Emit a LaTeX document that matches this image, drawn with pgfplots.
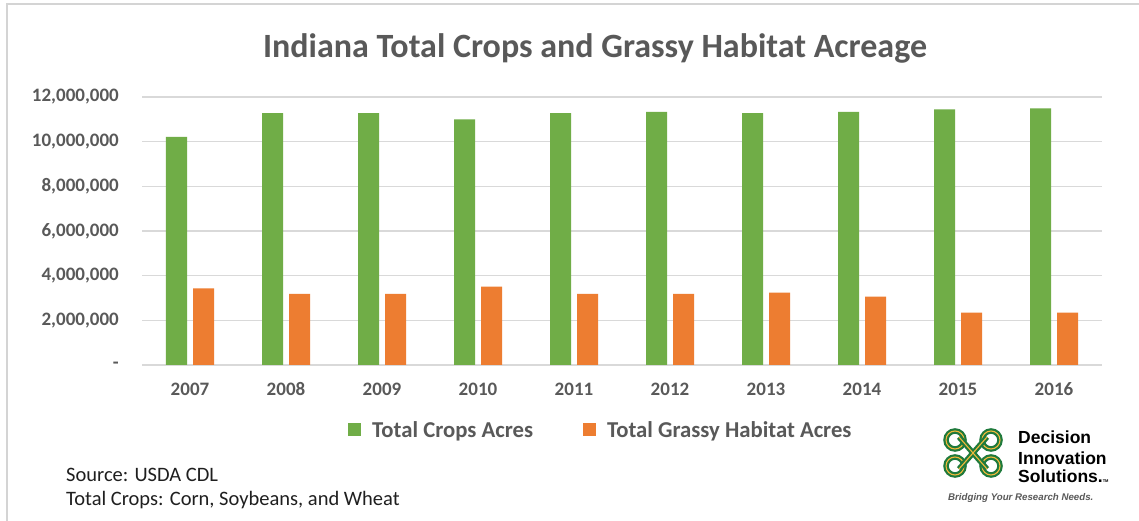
\documentclass[border=0pt]{standalone}
\usepackage{fontspec}
\setmainfont{Carlito}
\newfontfamily\arialfont{Liberation Sans}
\usepackage{pgfplots}
\pgfplotsset{compat=1.18}
\definecolor{cgreen}{HTML}{70AD47}
\definecolor{corange}{HTML}{ED7D31}
\definecolor{txtgray}{HTML}{595959}
\definecolor{gridgray}{HTML}{D9D9D9}
\definecolor{framegray}{HTML}{D4D4D4}
\definecolor{logogreen}{HTML}{1F7A3C}
\definecolor{logoyellow}{HTML}{F0B93A}
\begin{document}
\begin{tikzpicture}
\useasboundingbox (0,0) rectangle (1139bp,521bp);
\fill[white] (0,0) rectangle (1139bp,521bp);
\draw[framegray, line width=1.5bp] (7bp,0) -- (7bp,517bp) -- (1139bp,517bp);
\begin{axis}[
  at={(142bp,156bp)}, anchor=south west,
  scale only axis, width=960bp, height=268bp,
  xmin=-0.5, xmax=9.5, ymin=0, ymax=12000000,
  ybar=6bp, bar width=21bp,
  axis line style={draw=none},
  ymajorgrids, grid style={color=gridgray, line width=1.3bp},
  major tick length=0pt,
  scaled y ticks=false,
  ytick={0,2000000,4000000,6000000,8000000,10000000,12000000},
  yticklabels={{-\hspace{10bp}},{2,000,000},{4,000,000},{6,000,000},{8,000,000},{10,000,000},{12,000,000}},
  xtick={0,1,2,3,4,5,6,7,8,9},
  xticklabels={2007,2008,2009,2010,2011,2012,2013,2014,2015,2016},
  yticklabel style={anchor=east, inner sep=0pt, xshift=-23bp, font=\bfseries\fontsize{19bp}{19bp}\selectfont, text=txtgray},
  xticklabel style={anchor=base, inner sep=0pt, yshift=-31bp, font=\bfseries\fontsize{19bp}{19bp}\selectfont, text=txtgray},
  legend columns=2,
  legend style={at={(0.2146,-0.2425)}, anchor=west, draw=none, fill=none, inner sep=0pt,
    nodes={inner sep=0pt, font=\bfseries\fontsize{22.7bp}{22.7bp}\selectfont, text=txtgray},
    /tikz/every odd column/.append style={column sep=11bp},
    /tikz/every even column/.append style={column sep=50bp}},
  legend image code/.code={\fill[#1] (0bp,-6.5bp) rectangle (13bp,6.5bp);},
]
\addplot[fill=cgreen, draw=none] coordinates {
  (0,10220000) (1,11280000) (2,11280000) (3,11000000) (4,11280000)
  (5,11330000) (6,11280000) (7,11330000) (8,11450000) (9,11490000)};
\addlegendentry{Total Crops Acres}
\addplot[fill=corange, draw=none] coordinates {
  (0,3430000) (1,3190000) (2,3190000) (3,3510000) (4,3190000)
  (5,3190000) (6,3240000) (7,3060000) (8,2340000) (9,2340000)};
\addlegendentry{Total Grassy Habitat Acres}
\end{axis}
% title
\node[text=txtgray, font=\bfseries\fontsize{34bp}{34bp}\selectfont] at (595bp,473bp) {Indiana Total Crops and Grassy Habitat Acreage};
% source notes
\node[anchor=west, inner sep=0pt, text=black!88, font=\fontsize{20.5bp}{20.5bp}\selectfont] at (66bp,46bp) {Source: USDA CDL};
\node[anchor=west, inner sep=0pt, text=black!88, font=\fontsize{20.5bp}{20.5bp}\selectfont] at (66bp,21bp) {Total Crops: Corn, Soybeans, and Wheat};
% logo
\begin{scope}[shift={(973bp,68bp)}]
  \foreach \sx/\sy in {1/1,-1/1,1/-1,-1/-1}{
    \draw[logogreen, line width=5.5bp] (\sx*18bp,\sy*13bp) circle (9bp);
    \draw[logoyellow, line width=1.1bp] (\sx*18bp,\sy*13bp) circle (9bp);
  }
  \draw[logogreen, line width=5.5bp] (-14bp,-16bp) -- (14bp,16bp);
  \draw[logogreen, line width=5.5bp] (-14bp,16bp) -- (14bp,-16bp);
  \draw[logoyellow, line width=1.1bp] (-14bp,-16bp) -- (14bp,16bp);
  \draw[logoyellow, line width=1.1bp] (-14bp,16bp) -- (14bp,-16bp);
\end{scope}
\node[anchor=west, inner sep=0pt, font=\arialfont\bfseries\fontsize{17.5bp}{17.5bp}\selectfont] at (1018bp,83.5bp) {Decision};
\node[anchor=west, inner sep=0pt, font=\arialfont\bfseries\fontsize{17.5bp}{17.5bp}\selectfont] at (1018bp,63bp) {Innovation};
\node[anchor=west, inner sep=0pt, font=\arialfont\bfseries\fontsize{17.5bp}{17.5bp}\selectfont] at (1018bp,45bp) {Solutions.\raisebox{0pt}{\fontsize{4bp}{4bp}\selectfont TM}};
\node[anchor=west, inner sep=0pt, text=txtgray, font=\arialfont\bfseries\itshape\fontsize{9.7bp}{9.7bp}\selectfont] at (948bp,23bp) {Bridging Your Research Needs.};
\end{tikzpicture}
\end{document}
